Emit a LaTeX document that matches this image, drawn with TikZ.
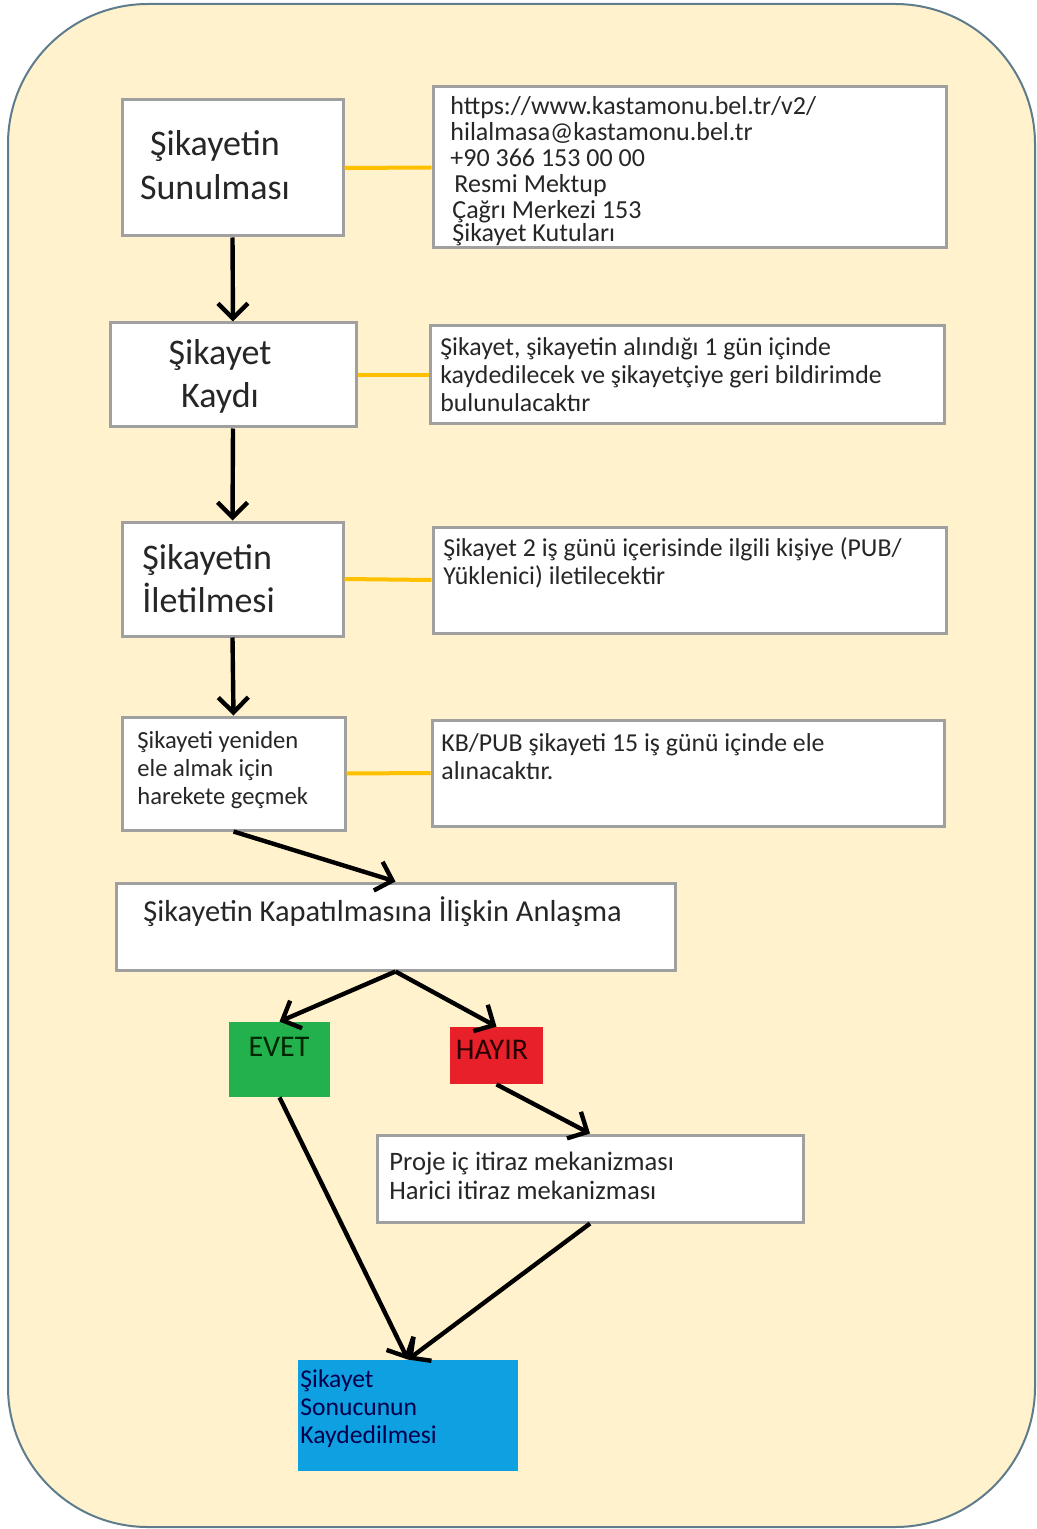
\documentclass[tikz,border=0pt]{standalone}
\usepackage{fontspec}
\setmainfont{Carlito}
\usetikzlibrary{arrows.meta}
\definecolor{bgfill}{HTML}{FFF2CC}
\definecolor{bgline}{HTML}{5E7C8C}
\definecolor{boxline}{HTML}{A0A0A0}
\definecolor{linkc}{HTML}{FFC000}
\definecolor{evetc}{HTML}{22B14C}
\definecolor{hayirc}{HTML}{E8202A}
\definecolor{bluec}{HTML}{0EA0E0}
\definecolor{txt}{HTML}{262626}
\tikzset{
  wbox/.style={draw=boxline, line width=1.5pt, fill=white, inner sep=0pt},
  cbox/.style={inner sep=0pt, draw=none},
  mainlbl/.style={inner sep=0pt, font=\fontsize{18}{22}\selectfont, text=txt},
  infolbl/.style={inner sep=0pt, align=left, anchor=west, font=\fontsize{12.9}{14}\selectfont, text=txt},
  link/.style={draw=linkc, line width=2pt},
  flow/.style={draw=black, line width=2.2pt, -{Straight Barb[length=7.5pt,width=15pt,line width=2.2pt]}},
}
\begin{document}
\begin{tikzpicture}[x=0.5pt,y=-0.5pt]
\useasboundingbox (0,0) rectangle (1037,1529);
\draw[fill=bgfill, draw=bgline, line width=1pt, rounded corners=70pt] (8,4) rectangle (1035,1527);

% left column boxes
\node[wbox, minimum width=110.5pt, minimum height=68pt] (b1) at (232.5,168) {};
\node[mainlbl, align=center] (t1) at (215,165) {Şikayetin\\Sunulması};

\node[wbox, minimum width=123pt, minimum height=52pt] (b2) at (233,375) {};
\node[mainlbl, align=center, font=\fontsize{18}{21.5}\selectfont] (t2) at (220,376.5) {Şikayet\\Kaydı};

\node[wbox, minimum width=110.5pt, minimum height=57pt] (b3) at (232.5,579) {};
\node[mainlbl, align=left, anchor=west, font=\fontsize{18}{21.5}\selectfont] (t3) at (142,578.5) {Şikayetin\\İletilmesi};

\node[wbox, minimum width=111.5pt, minimum height=56.5pt] (b4) at (233.5,773.5) {};
\node[infolbl, font=\fontsize{12.3}{14}\selectfont] (t4) at (137,770) {Şikayeti yeniden\\ele almak için\\harekete geçmek};

% info boxes
\node[wbox, minimum width=256.5pt, minimum height=80.5pt] (i1) at (689.5,167.5) {};
\node[infolbl, font=\fontsize{13}{13}\selectfont] (ti1) at (450,171) {https://www.kastamonu.bel.tr/v2/\\hilalmasa@kastamonu.bel.tr\\+90 366 153 00 00\\\hspace{2pt}Resmi Mektup\\\hspace{1pt}Çağrı Merkezi 153\\[-1.5pt]\hspace{1pt}Şikayet Kutuları};

\node[wbox, minimum width=257pt, minimum height=49pt] (i2) at (687,375) {};
\node[infolbl] (ti2) at (440,375) {Şikayet, şikayetin alındığı 1 gün içinde\\kaydedilecek ve şikayetçiye geri bildirimde\\bulunulacaktır};

\node[wbox, minimum width=256.5pt, minimum height=53pt] (i3) at (689.5,580) {};
\node[infolbl] (ti3) at (443,563) {Şikayet 2 iş günü içerisinde ilgili kişiye (PUB/\\Yüklenici) iletilecektir};

\node[wbox, minimum width=256pt, minimum height=53pt] (i4) at (688,773) {};
\node[infolbl] (ti4) at (441,757) {KB/PUB şikayeti 15 iş günü içinde ele\\alınacaktır.};

% agreement
\node[wbox, minimum width=279.5pt, minimum height=43.5pt] (b5) at (395.5,926.5) {};
\node[inner sep=0pt, anchor=west, font=\fontsize{15.2}{18}\selectfont, text=txt] (t5) at (143,912) {Şikayetin Kapatılmasına İlişkin Anlaşma};

% decision
\node[cbox, fill=evetc, minimum width=50.5pt, minimum height=37.5pt] (ev) at (279.5,1059.5) {};
\node[inner sep=0pt, font=\fontsize{15}{18}\selectfont, text=black!85!green] (tev) at (279,1047) {EVET};
\node[cbox, fill=hayirc, minimum width=46.5pt, minimum height=28.5pt] (ha) at (496.5,1055.5) {};
\node[inner sep=0pt, font=\fontsize{15}{18}\selectfont, text=black!85!red] (tha) at (492,1050) {HAYIR};

\node[wbox, minimum width=213pt, minimum height=43.5pt] (pr) at (590,1178.5) {};
\node[infolbl, font=\fontsize{13.3}{14.5}\selectfont] (tpr) at (389,1175.5) {Proje iç itiraz mekanizması\\Harici itiraz mekanizması};

\node[cbox, fill=bluec, minimum width=110pt, minimum height=55.5pt] (bl) at (408,1415.5) {};
\node[infolbl, font=\fontsize{12.8}{14}\selectfont, text=black!70!blue] (tbl) at (300,1409) {Şikayet\\Sonucunun\\Kaydedilmesi};

% yellow links
\draw[link] (b1.east) -- (i1.west);
\draw[link] (b2.east) -- (i2.west);
\draw[link] (b3.east) -- (i3.west);
\draw[link] (b4.east) -- (i4.west);

% flow arrows
\draw[flow] (b1.south) -- (b2.north);
\draw[flow] (b2.south) -- (b3.north);
\draw[flow] (b3.south) -- (b4.north);
\draw[flow] (b4.south) -- (b5.north);
\draw[flow] (b5.south) -- (ev.north);
\draw[flow] (b5.south) -- (ha.north);
\draw[flow] (ha.south) -- (pr.north);
\draw[flow] (ev.south) -- (bl.north);
\draw[flow] (pr.south) -- (bl.north);
\end{tikzpicture}
\end{document}
